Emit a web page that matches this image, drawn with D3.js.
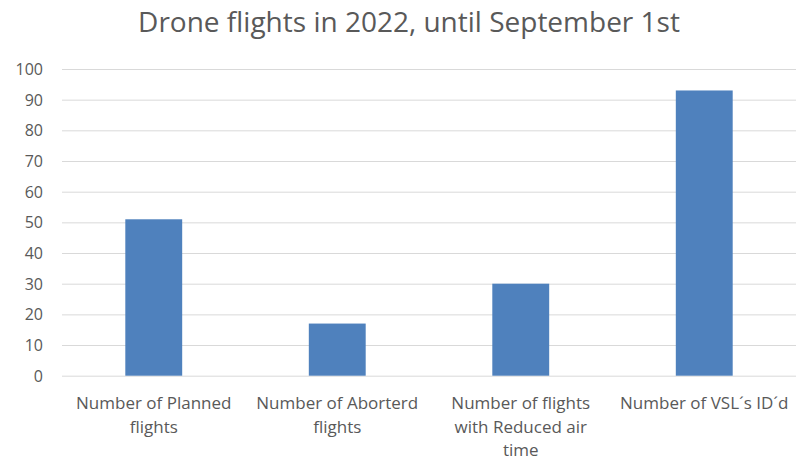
<!DOCTYPE html>
<html>
<head>
<meta charset="utf-8">
<script src="https://cdn.jsdelivr.net/npm/d3@7"></script>
<style>
  html, body { margin: 0; padding: 0; background: #fff; }
  svg { display: block; }
  text { font-family: "Open Sans", Lato, "Liberation Sans", sans-serif; }
</style>
</head>
<body>
<svg id="chart" width="796" height="461"></svg>
<script>
const title = "Drone flights in 2022, until September 1st";
const categories = [
  "Number of Planned\nflights",
  "Number of Aborterd\nflights",
  "Number of flights\nwith Reduced air\ntime",
  "Number of VSL´s ID´d"
];
const values = [51, 17, 30, 93];
const yTicks = [0, 10, 20, 30, 40, 50, 60, 70, 80, 90, 100];

const W = 796, H = 461;
const margin = { left: 62, right: 0, top: 69, bottom: 85 };
const svg = d3.select("#chart");

const x = d3.scaleBand()
  .domain(categories)
  .range([margin.left, W - margin.right])
  .paddingInner(0.69)
  .paddingOuter(0.345);

const y = d3.scaleLinear().domain([0, 100]).range([375.7, 69]);

// title
svg.append("text")
  .attr("x", 409).attr("y", 32)
  .attr("text-anchor", "middle")
  .attr("font-size", 28)
  .attr("fill", "#595959")
  .text(title);

// gridlines
const yAxis = d3.axisLeft(y).tickValues(yTicks).tickSize(0).tickPadding(0);
const gy = svg.append("g").attr("transform", `translate(${margin.left},0)`).call(yAxis);
gy.select(".domain").remove();
gy.selectAll(".tick text")
  .attr("x", -19)
  .attr("dy", "0.35em")
  .attr("font-size", 16)
  .attr("fill", "#595959")
  .style("font-family", "'Open Sans', Lato, sans-serif");
gy.selectAll(".tick line")
  .attr("x1", 0).attr("x2", W - margin.left)
  .attr("stroke", "#d9d9d9").attr("stroke-width", 1);

// bars
svg.append("g").selectAll("rect")
  .data(categories)
  .join("rect")
  .attr("x", d => x(d))
  .attr("width", x.bandwidth())
  .attr("y", (d, i) => y(values[i]))
  .attr("height", (d, i) => y(0) - y(values[i]))
  .attr("fill", "#4f81bd");

// x labels
const xl = svg.append("g").selectAll("text")
  .data(categories)
  .join("text")
  .attr("text-anchor", "middle")
  .attr("font-size", 17)
  .attr("fill", "#595959");
xl.each(function(d) {
  const t = d3.select(this);
  const cx = x(d) + x.bandwidth() / 2;
  d.split("\n").forEach((line, i) => {
    t.append("tspan").attr("x", cx).attr("y", 409 + i * 23.5).text(line);
  });
});
</script>
</body>
</html>
